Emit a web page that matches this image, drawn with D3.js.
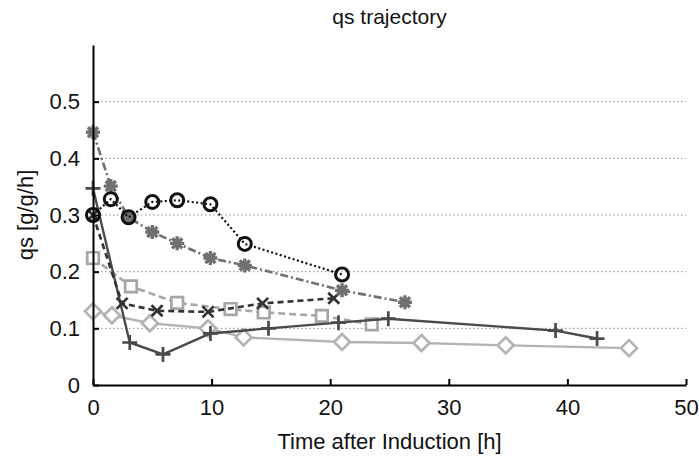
<!DOCTYPE html>
<html>
<head>
<meta charset="utf-8">
<script src="https://cdn.jsdelivr.net/npm/d3@7"></script>
<style>
  html, body { margin: 0; padding: 0; background: #fff; }
  svg { display: block; font-family: "Liberation Sans", Arial, sans-serif; }
</style>
</head>
<body>
<svg id="chart" width="699" height="458"></svg>
<script>
// Specific substrate uptake rate (qs) over time after induction, one run per series
const circleT  = [0, 1.5, 3, 5, 7.1, 9.9, 12.8, 21.0];
const circleQ  = [0.300, 0.328, 0.296, 0.323, 0.326, 0.319, 0.249, 0.195];

const starT    = [0, 1.5, 3, 5, 7.1, 9.9, 12.8, 21.0, 26.3];
const starQ    = [0.446, 0.351, 0.296, 0.270, 0.250, 0.224, 0.211, 0.167, 0.146];

const plusT    = [0, 3.1, 5.9, 9.9, 14.8, 20.7, 24.9, 39.0, 42.5];
const plusQ    = [0.347, 0.075, 0.054, 0.091, 0.100, 0.110, 0.117, 0.096, 0.082];

const crossT   = [0, 2.45, 5.4, 9.7, 14.3, 20.3];
const crossQ   = [0.300, 0.144, 0.131, 0.129, 0.144, 0.153];

const squareT  = [0, 3.2, 7.1, 11.6, 14.4, 19.3, 23.5];
const squareQ  = [0.224, 0.174, 0.145, 0.134, 0.128, 0.122, 0.107];

const diamondT = [0, 1.6, 4.8, 9.7, 12.7, 21.0, 27.7, 34.8, 45.2];
const diamondQ = [0.130, 0.123, 0.109, 0.100, 0.084, 0.076, 0.074, 0.070, 0.065];

const xTicks = [0, 10, 20, 30, 40, 50];
const yTicks = [0, 0.1, 0.2, 0.3, 0.4, 0.5];

const svg = d3.select("#chart");
const margin = { left: 93, right: 13, top: 45, bottom: 73 };
const W = 699, H = 458;

const x = d3.scaleLinear().domain([0, 50]).range([margin.left, W - margin.right]);
const y = d3.scaleLinear().domain([0, 0.6]).range([H - margin.bottom, margin.top]);

// horizontal dotted grid
svg.append("g")
  .selectAll("line")
  .data(yTicks.filter(d => d > 0))
  .join("line")
  .attr("x1", x(0)).attr("x2", x(50))
  .attr("y1", d => y(d)).attr("y2", d => y(d))
  .attr("stroke", "#8c8c8c")
  .attr("stroke-width", 1)
  .attr("stroke-dasharray", "1.5,2.5");

// series definitions
const series = [
  { t: diamondT, q: diamondQ, color: "#b3b3b3", dash: null,        marker: "diamond", lw: 2.4 },
  { t: squareT,  q: squareQ,  color: "#a6a6a6", dash: "7,4",       marker: "square",  lw: 2.6 },
  { t: plusT,    q: plusQ,    color: "#4a4a4a", dash: null,        marker: "plus",    lw: 2.4 },
  { t: crossT,   q: crossQ,   color: "#333333", dash: "6,4",       marker: "cross",   lw: 2.6 },
  { t: starT,    q: starQ,    color: "#707070", dash: "8,3,2,3",   marker: "star",    lw: 2.6 },
  { t: circleT,  q: circleQ,  color: "#111111", dash: "2,2.5",     marker: "circle",  lw: 2.2 }
];

const line = d3.line().x(d => x(d[0])).y(d => y(d[1]));

function markerPath(type) {
  switch (type) {
    case "plus":  { const s = 7.5; return `M${-s},0H${s}M0,${-s}V${s}`; }
    case "cross": { const s = 5.5; return `M${-s},${-s}L${s},${s}M${-s},${s}L${s},${-s}`; }
    case "star":  { const s = 7, k = s * 0.72;
      return `M${-s},0H${s}M0,${-s}V${s}M${-k},${-k}L${k},${k}M${-k},${k}L${k},${-k}`; }
    case "square": { const s = 5.8; return `M${-s},${-s}H${s}V${s}H${-s}Z`; }
    case "diamond": { const s = 8; return `M0,${-s}L${s},0L0,${s}L${-s},0Z`; }
  }
  return "";
}

series.forEach(s => {
  const pts = s.t.map((t, i) => [t, s.q[i]]);
  const g = svg.append("g");
  g.append("path")
    .attr("d", line(pts))
    .attr("fill", "none")
    .attr("stroke", s.color)
    .attr("stroke-width", s.lw)
    .attr("stroke-linejoin", "round")
    .attr("stroke-dasharray", s.dash);
  if (s.marker === "circle") {
    g.selectAll("circle").data(pts).join("circle")
      .attr("cx", d => x(d[0])).attr("cy", d => y(d[1]))
      .attr("r", 6.5)
      .attr("fill", "none")
      .attr("stroke", s.color)
      .attr("stroke-width", 3);
  } else {
    const filled = s.marker === "square" || s.marker === "diamond";
    g.selectAll("path.m").data(pts).join("path")
      .attr("class", "m")
      .attr("transform", d => `translate(${x(d[0])},${y(d[1])})`)
      .attr("d", markerPath(s.marker))
      .attr("fill", filled ? "#fff" : "none")
      .attr("stroke", s.color)
      .attr("stroke-width", s.marker === "star" ? 3.4 : 2.7);
  }
});

// axes (ticks pointing inward)
const xAxis = svg.append("g")
  .attr("transform", `translate(0,${y(0)})`)
  .call(d3.axisBottom(x).tickValues(xTicks).tickSizeInner(-6).tickSizeOuter(0).tickPadding(14));
const yAxis = svg.append("g")
  .attr("transform", `translate(${x(0)},0)`)
  .call(d3.axisLeft(y).tickValues(yTicks).tickSizeInner(-6).tickSizeOuter(0).tickPadding(13)
    .tickFormat(d => d === 0 ? "0" : d3.format(".1f")(d)));

[xAxis, yAxis].forEach(a => {
  a.select(".domain").attr("stroke", "#000").attr("stroke-width", 2);
  a.selectAll(".tick line").attr("stroke", "#000").attr("stroke-width", 2);
  a.selectAll(".tick text").attr("fill", "#111").style("font-size", "22px");
});

// titles
svg.append("text")
  .attr("x", (x(0) + x(50)) / 2).attr("y", 24)
  .attr("text-anchor", "middle")
  .style("font-size", "21px")
  .attr("fill", "#111")
  .text("qs trajectory");

svg.append("text")
  .attr("x", (x(0) + x(50)) / 2).attr("y", 449)
  .attr("text-anchor", "middle")
  .style("font-size", "22px")
  .attr("fill", "#111")
  .text("Time after Induction [h]");

svg.append("text")
  .attr("transform", `translate(33,${(y(0) + y(0.6)) / 2}) rotate(-90)`)
  .attr("text-anchor", "middle")
  .style("font-size", "22px")
  .attr("fill", "#111")
  .text("qs [g/g/h]");
</script>
</body>
</html>
